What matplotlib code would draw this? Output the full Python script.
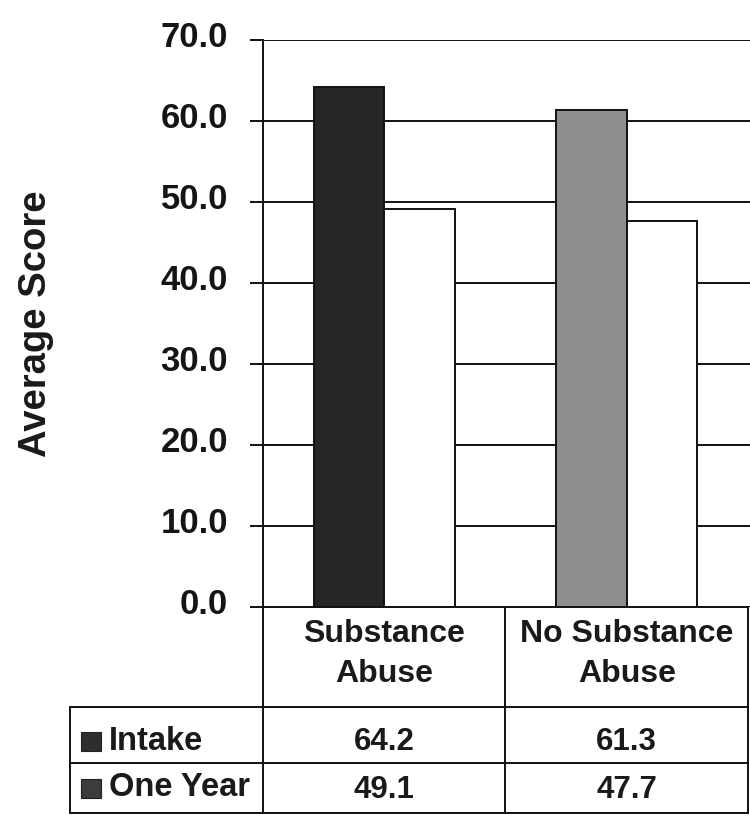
import matplotlib
matplotlib.use("Agg")
import matplotlib.pyplot as plt
from matplotlib.transforms import ScaledTranslation, blended_transform_factory
import numpy as np

plt.rcParams['font.family'] = ['Liberation Sans', 'DejaVu Sans']
plt.rcParams['font.weight'] = 'bold'

# ---- data ----
categories = ["Substance\nAbuse", "No Substance\nAbuse"]
series_names = ["Intake", "One Year"]
intake = [64.2, 61.3]
one_year = [49.1, 47.7]
yticks = [0, 10, 20, 30, 40, 50, 60, 70]
ylabel = "Average Score"

W, H = 750, 817
fig = plt.figure(figsize=(W / 100, H / 100), dpi=100)

def fx(px):
    return px / W

def fy(py):
    return 1 - py / H

# main axes (pixel bounds: left 263, right 750, top 40, bottom 607)
ax = fig.add_axes([fx(263), fy(607), fx(750) - fx(263), fy(40) - fy(607)])
ax.set_xlim(-0.5, 1.5 + (750 - 748) / 242.5)
ax.set_ylim(0, 70)

x = np.arange(len(categories))
bw = 0.29
intake_colors = ["#262626", "#8e8e8e"]
ax.bar(x - bw / 2, intake, width=bw, color=intake_colors, edgecolor="#111111",
       linewidth=1.4, zorder=3)
ax.bar(x + bw / 2, one_year, width=bw, color="white", edgecolor="#111111",
       linewidth=1.4, zorder=3)

ax.set_yticks(yticks)
ax.set_yticklabels([f"{v:.1f}" for v in yticks], fontsize=25, fontweight='bold',
                   color="#151515")
ax.set_xticks([])
ax.tick_params(axis='y', direction='out', length=9.4, width=1.4, pad=15.8,
               color="#111111")
ax.grid(axis='y', color="#111111", linewidth=1.4, zorder=0)
ax.set_axisbelow(True)
for s in ["right", "top", "bottom"]:
    ax.spines[s].set_visible(False)
ax.spines["left"].set_linewidth(1.4)
ax.spines["left"].set_color("#111111")
for lab in ax.get_yticklabels():
    lab.set_transform(lab.get_transform() + ScaledTranslation(0, 6 / 100, fig.dpi_scale_trans))

# overlay in pixel coordinates for the data table
ov = fig.add_axes([0, 0, 1, 1], zorder=5)
ov.set_xlim(0, W)
ov.set_ylim(H, 0)
ov.axis('off')
ov.patch.set_alpha(0)

lc = "#111111"
lw = 1.4
# horizontal lines
ov.plot([263, 748], [607, 607], color=lc, lw=lw)
for yy in (707, 763, 813):
    ov.plot([70, 748], [yy, yy], color=lc, lw=lw)
# vertical lines
for xx in (263, 505, 748):
    ov.plot([xx, xx], [607, 813], color=lc, lw=lw)
ov.plot([70, 70], [707, 813], color=lc, lw=lw)

bt = blended_transform_factory(ax.transData, ov.transData)
for i, cat in enumerate(categories):
    ov.text(x[i], 654, cat, transform=bt, ha='center', va='center',
            fontsize=23, fontweight='bold', color="#1a1a1a", linespacing=1.4)
    ov.text(x[i], 742, f"{intake[i]:.1f}", transform=bt, ha='center', va='center',
            fontsize=22.5, fontweight='bold', color="#1a1a1a")
    ov.text(x[i], 790, f"{one_year[i]:.1f}", transform=bt, ha='center', va='center',
            fontsize=22.5, fontweight='bold', color="#1a1a1a")

# row labels with legend keys
key_colors = ["#2e2e2e", "#3c3c3c"]
row_y = [741, 788]
for name, kc, yy in zip(series_names, key_colors, row_y):
    ov.add_patch(plt.Rectangle((81, yy - 9.5), 20, 19, facecolor=kc,
                               edgecolor="#222222", lw=0.8))
    ov.text(109, yy, name, ha='left', va='center', fontsize=23.5,
            fontweight='bold', color="#1a1a1a")

fig.text(fx(36), fy(324), ylabel, rotation=90, ha='center', va='center',
         fontsize=27.5, fontweight='bold', color="#1a1a1a")

fig.savefig("out.png", dpi=100)
